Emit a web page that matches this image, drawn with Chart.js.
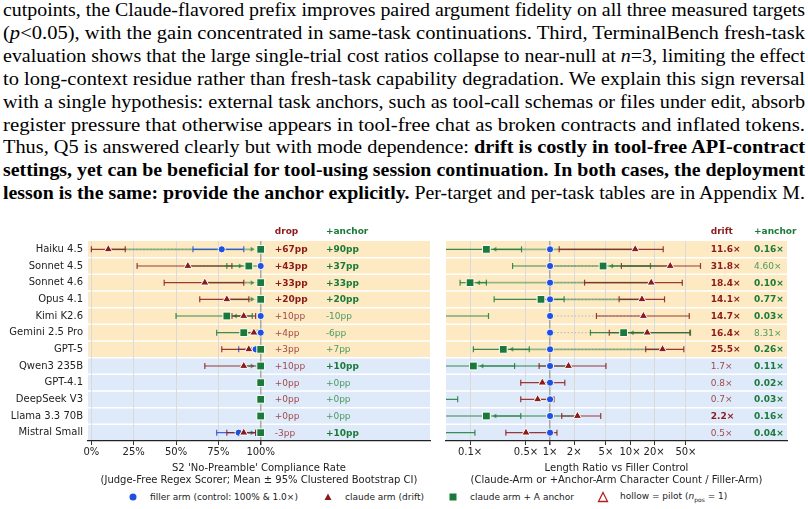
<!DOCTYPE html>
<html lang="en">
<head>
<meta charset="UTF-8">
<title>Drift vs anchor</title>
<script src="https://cdn.jsdelivr.net/npm/chart.js"></script>
<style>
    body {
        margin: 0;
        width: 808px;
        height: 509px;
        overflow: hidden;
        background: #fff;
        position: relative;
        font-family: 'DejaVu Sans', sans-serif;
    }
    #para {
        position: absolute;
        left: 3px;
        top: -1px;
        width: 802px;
        font-family: 'Liberation Serif', 'Times New Roman', serif;
        font-size: 19px;
        line-height: 22.9px;
        color: #000;
    }
    .ln { white-space: nowrap; transform-origin: 0 0; }
    .ln span { display: inline-block; }
    #leftChart { position: absolute; left: 0; top: 222px; }
    #rightChart { position: absolute; left: 438px; top: 222px; }
    #legend { position: absolute; left: 0; top: 490px; width: 808px; height: 14px; font-size: 9px; color: #222; }
    .item { position: absolute; top: 0; height: 14px; display: flex; align-items: center; white-space: nowrap; }
    .item span { margin-left: 12px; }
</style>
</head>
<body>
<div id="para">
    <div class="ln"><span>cutpoints, the Claude-flavored prefix improves paired argument fidelity on all three measured targets</span></div>
    <div class="ln"><span>(<i>p</i>&lt;0.05), with the gain concentrated in same-task continuations. Third, TerminalBench fresh-task</span></div>
    <div class="ln"><span>evaluation shows that the large single-trial cost ratios collapse to near-null at <i>n</i>=3, limiting the effect</span></div>
    <div class="ln"><span>to long-context residue rather than fresh-task capability degradation. We explain this sign reversal</span></div>
    <div class="ln"><span>with a single hypothesis: external task anchors, such as tool-call schemas or files under edit, absorb</span></div>
    <div class="ln"><span>register pressure that otherwise appears in tool-free chat as broken contracts and inflated tokens.</span></div>
    <div class="ln"><span>Thus, Q5 is answered clearly but with mode dependence: <b>drift is costly in tool-free API-contract</b></span></div>
    <div class="ln"><span><b>settings, yet can be beneficial for tool-using session continuation. In both cases, the deployment</b></span></div>
    <div class="ln"><span><b>lesson is the same: provide the anchor explicitly.</b> Per-target and per-task tables are in Appendix M.</span></div>
</div>

<canvas id="leftChart" width="438" height="268"></canvas>
<canvas id="rightChart" width="370" height="268"></canvas>

<div id="legend">
    <div class="item" style="left:128px"><svg width="10" height="10"><circle cx="5" cy="5" r="3.5" fill="#1f50e0"/></svg><span>filler arm (control: 100% &amp; 1.0×)</span></div>
    <div class="item" style="left:323px"><svg width="10" height="10"><polygon points="5,1.5 8.5,8 1.5,8" fill="#8b1a1a"/></svg><span>claude arm (drift)</span></div>
    <div class="item" style="left:448px"><svg width="10" height="10"><rect x="1.5" y="1.5" width="7" height="7" fill="#1b7a3a"/></svg><span>claude arm + A anchor</span></div>
    <div class="item" style="left:597px"><svg width="12" height="12"><polygon points="6,1.5 10.5,10.5 1.5,10.5" fill="none" stroke="#b22222" stroke-width="1.3"/></svg><span style="margin-left:11px">hollow = pilot (<i>n</i><sub style="font-size:6px">pos</sub> = 1)</span></div>
</div>

<script>
    // rows, top to bottom
    const models = ['Haiku 4.5', 'Sonnet 4.5', 'Sonnet 4.6', 'Opus 4.1', 'Kimi K2.6', 'Gemini 2.5 Pro', 'GPT-5',
                    'Qwen3 235B', 'GPT-4.1', 'DeepSeek V3', 'Llama 3.3 70B', 'Mistral Small'];
    const rowGroup = ['warm', 'warm', 'warm', 'warm', 'warm', 'warm', 'warm', 'cool', 'cool', 'cool', 'cool', 'cool'];

    // left panel: compliance rate (%)
    const fillerRate = [77, 100, 100, 100, 100, 100, 97, 100, 100, 100, 100, 87];
    const fillerLo   = [60, 100, 100, 100, 100, 100, 87, 100, 100, 100, 100, 74];
    const fillerHi   = [90, 100, 100, 100, 100, 100, 100, 100, 100, 100, 100, 97];
    const claudeRate = [10, 57, 67, 80, 90, 96, 93, 90, 100, 100, 100, 90];
    const claudeLo   = [0, 27, 43, 64, 83, 92, 77, 67, 100, 100, 100, 80];
    const claudeHi   = [20, 83, 90, 93, 97, 100, 99, 98, 100, 100, 100, 97];
    const anchorRate = [100, 93, 100, 100, 80, 90, 100, 100, 100, 100, 100, 100];
    const anchorLo   = [100, 80, 100, 100, 50, 74, 100, 100, 100, 100, 100, 100];
    const anchorHi   = [100, 100, 100, 100, 95, 98, 100, 100, 100, 100, 100, 100];
    const dropText   = ['+67pp', '+43pp', '+33pp', '+20pp', '+10pp', '+4pp', '+3pp', '+10pp', '+0pp', '+0pp', '+0pp', '-3pp'];
    const dropBold   = [1, 1, 1, 1, 0, 0, 0, 0, 0, 0, 0, 0];
    const plusText   = ['+90pp', '+37pp', '+33pp', '+20pp', '-10pp', '-6pp', '+7pp', '+10pp', '+0pp', '+0pp', '+0pp', '+10pp'];
    const plusBold   = [1, 1, 1, 1, 0, 0, 0, 1, 0, 0, 0, 1];
    const pctTicks   = [0, 25, 50, 75, 100];

    // right panel: length ratio vs filler
    const fillerRatio   = [1, 1, 1, 1, 1, 1, 1, 1, 1, 1, 1, 1];
    const claudeRatio   = [11.6, 31.8, 18.4, 14.1, 14.7, 16.4, 25.5, 1.7, 0.8, 0.7, 2.2, 0.5];
    const claudeRatioLo = [1.3, 7.8, 2.7, 7.3, 3.8, 5.5, 15.7, 0.73, 0.43, 0.43, 1.4, 0.28];
    const claudeRatioHi = [26, 76, 45, 27, 55, 56, 47, 5.0, 1.53, 1.12, 4.3, 1.22];
    const anchorRatio   = [0.16, 4.60, 0.10, 0.77, 0.03, 8.31, 0.26, 0.11, 0.02, 0.03, 0.16, 0.04];
    const anchorRatioLo = [0.03, 0.34, 0.075, 0.20, 0.01, 3.2, 0.11, 0.03, 0.01, 0.01, 0.03, 0.01];
    const anchorRatioHi = [0.44, 18, 0.16, 1.5, 0.17, 57, 0.55, 0.36, 0.04, 0.07, 0.43, 0.115];
    const driftText     = ['11.6×', '31.8×', '18.4×', '14.1×', '14.7×', '16.4×', '25.5×', '1.7×', '0.8×', '0.7×', '2.2×', '0.5×'];
    const driftBold     = [1, 1, 1, 1, 1, 1, 1, 0, 0, 0, 1, 0];
    const ratioText     = ['0.16×', '4.60×', '0.10×', '0.77×', '0.03×', '8.31×', '0.26×', '0.11×', '0.02×', '0.03×', '0.16×', '0.04×'];
    const ratioBold     = [1, 0, 1, 1, 1, 0, 1, 1, 1, 1, 1, 1];
    const ratioTicks    = [0.1, 0.5, 1, 2, 5, 10, 20, 50];

    const RED = '#8b1a1a', RED_SOFT = '#a04a4a';
    const GREEN = '#1b7a3a', GREEN_SOFT = '#4b9a62';
    const BLUE = '#1f50e0';
    const BAND_WARM = '#fdeac2', BAND_COOL = '#deeaf9';

    // each paragraph line is fitted to the 802px column on its own
    document.querySelectorAll('#para .ln').forEach(l => {
        const w = l.firstElementChild.getBoundingClientRect().width;
        l.style.transform = 'scaleX(' + (802 / w) + ')';
    });

    Chart.defaults.font.family = "'DejaVu Sans', sans-serif";
    Chart.defaults.color = '#222';

    function forestPlugin(p) {
        return {
            id: 'forest',
            beforeDraw(chart) {
                const { ctx, chartArea: a } = chart;
                const h = (a.bottom - a.top) / models.length;
                ctx.save();
                rowGroup.forEach((g, i) => {
                    ctx.fillStyle = g === 'warm' ? BAND_WARM : BAND_COOL;
                    ctx.fillRect(a.left, a.top + i * h, a.right - a.left, h);
                });
                ctx.strokeStyle = '#fff';
                ctx.lineWidth = 1.5;
                for (let i = 1; i < models.length; i++) {
                    ctx.beginPath();
                    ctx.moveTo(a.left, a.top + i * h);
                    ctx.lineTo(a.right, a.top + i * h);
                    ctx.stroke();
                }
                ctx.restore();
            },
            beforeDatasetsDraw(chart) {
                const { ctx, chartArea: a, scales: { x, y } } = chart;
                ctx.save();
                ctx.beginPath();
                ctx.rect(a.left, a.top, a.right - a.left, a.bottom - a.top);
                ctx.clip();
                const hline = (x0, x1, yy) => { ctx.beginPath(); ctx.moveTo(x0, yy); ctx.lineTo(x1, yy); ctx.stroke(); };
                const ci = (lo, hi, yy, color) => {
                    if (hi <= lo) return;
                    const x0 = x.getPixelForValue(lo), x1 = x.getPixelForValue(hi);
                    ctx.strokeStyle = color;
                    ctx.lineWidth = 1.2;
                    hline(x0, x1, yy);
                    [x0, x1].forEach(xx => { ctx.beginPath(); ctx.moveTo(xx, yy - 3); ctx.lineTo(xx, yy + 3); ctx.stroke(); });
                };
                models.forEach((m, i) => {
                    const yy = y.getPixelForValue(i);
                    const xf = x.getPixelForValue(p.filler[i]);
                    const xc = x.getPixelForValue(p.claude[i]);
                    const xa = x.getPixelForValue(p.anchor[i]);
                    // faint link filler -> claude
                    if (Math.abs(xc - xf) > 4) {
                        ctx.setLineDash([1.5, 2]);
                        ctx.strokeStyle = 'rgba(160,160,160,0.7)';
                        ctx.lineWidth = 1;
                        hline(xf, xc, yy);
                        ctx.setLineDash([]);
                    }
                    // arrow claude -> anchor (only when anchor is on the axis)
                    if (p.anchor[i] >= x.min && p.anchor[i] <= x.max && Math.abs(xa - xc) > 10) {
                        const dir = Math.sign(xa - xc);
                        const tip = xa - dir * 6;
                        ctx.strokeStyle = 'rgba(27,122,58,0.45)';
                        ctx.lineWidth = 1.8;
                        hline(xc, tip - dir * 3, yy);
                        ctx.fillStyle = 'rgba(27,122,58,0.7)';
                        ctx.beginPath();
                        ctx.moveTo(tip, yy);
                        ctx.lineTo(tip - dir * 4, yy - 2.5);
                        ctx.lineTo(tip - dir * 4, yy + 2.5);
                        ctx.closePath();
                        ctx.fill();
                    }
                    ci(p.fillerLo[i], p.fillerHi[i], yy, 'rgba(31,80,224,0.85)');
                    ci(p.claudeLo[i], p.claudeHi[i], yy, 'rgba(139,26,26,0.85)');
                    ci(p.anchorLo[i], p.anchorHi[i], yy, 'rgba(27,122,58,0.85)');
                });
                ctx.restore();
            },
            afterDraw(chart) {
                const { ctx, chartArea: a, scales: { x, y } } = chart;
                ctx.save();
                ctx.textAlign = 'left';
                ctx.textBaseline = 'middle';
                p.cols.forEach(c => {
                    const xx = x.getPixelForValue(c.at);
                    ctx.font = "bold 9px 'DejaVu Sans'";
                    ctx.fillStyle = c.color;
                    ctx.fillText(c.header, xx, a.top - 9);
                    c.texts.forEach((t, i) => {
                        ctx.font = (c.bold[i] ? 'bold ' : '') + "9px 'DejaVu Sans'";
                        ctx.fillStyle = c.bold[i] ? c.color : c.soft;
                        ctx.fillText(t, xx, y.getPixelForValue(i) + 0.5);
                    });
                });
                ctx.restore();
            }
        };
    }

    function makeChart(id, p) {
        const pts = arr => models.map((m, i) => ({ x: arr[i], y: m }));
        return new Chart(document.getElementById(id), {
            type: 'scatter',
            data: {
                datasets: [
                    { label: 'claude arm + A anchor', data: pts(p.anchor), pointStyle: 'rect', pointRadius: 5.5,
                      backgroundColor: GREEN, borderColor: '#fff', borderWidth: 1, order: 1 },
                    { label: 'claude arm (drift)', data: pts(p.claude), pointStyle: 'triangle', pointRadius: 4.8,
                      backgroundColor: RED, borderColor: '#fff', borderWidth: 1, order: 2 },
                    { label: 'filler arm', data: pts(p.filler), pointStyle: 'circle', pointRadius: 3.6,
                      backgroundColor: BLUE, borderColor: '#fff', borderWidth: 1, order: 3 }
                ]
            },
            options: {
                responsive: false,
                devicePixelRatio: 1,
                animation: false,
                layout: { padding: { top: 19, right: p.padRight, left: 0, bottom: 0 } },
                plugins: { legend: { display: false }, tooltip: { enabled: false } },
                scales: {
                    x: {
                        type: p.xType,
                        min: p.min,
                        max: p.max,
                        afterBuildTicks: s => { s.ticks = p.ticks.map(v => ({ value: v })); },
                        afterFit: s => { s.height = 49; },
                        ticks: { callback: p.fmt, font: { size: 10 }, color: '#222', padding: 1, maxRotation: 0, autoSkip: false },
                        grid: {
                            color: c => (c.tick && c.tick.value === p.ref) ? '#a9a9a9' : '#dadada',
                            lineWidth: c => (c.tick && c.tick.value === p.ref) ? 1.5 : 1,
                            tickColor: '#333',
                            tickLength: 4
                        },
                        border: { display: true, color: '#222', width: 1.2 },
                        title: { display: true, text: p.title, font: { size: 10 }, color: '#222', padding: { top: 2, bottom: 4 } }
                    },
                    y: {
                        type: 'category',
                        labels: models,
                        offset: true,
                        afterFit: s => { s.width = p.yWidth; },
                        ticks: { display: p.showLabels, font: { size: 10 }, color: '#222', padding: 5 },
                        grid: { display: false, drawTicks: false },
                        border: { display: false }
                    }
                }
            },
            plugins: [forestPlugin(p)]
        });
    }

    makeChart('leftChart', {
        xType: 'linear', min: -2, max: 200, ticks: pctTicks, ref: 100, fmt: v => v + '%',
        padRight: 8, yWidth: 88, showLabels: true,
        title: ["S2 'No-Preamble' Compliance Rate", '(Judge-Free Regex Scorer; Mean ± 95% Clustered Bootstrap CI)'],
        filler: fillerRate, fillerLo: fillerLo, fillerHi: fillerHi,
        claude: claudeRate, claudeLo: claudeLo, claudeHi: claudeHi,
        anchor: anchorRate, anchorLo: anchorLo, anchorHi: anchorHi,
        cols: [
            { header: 'drop', at: 108.3, texts: dropText, bold: dropBold, color: RED, soft: RED_SOFT },
            { header: '+anchor', at: 138.5, texts: plusText, bold: plusBold, color: GREEN, soft: GREEN_SOFT }
        ]
    });

    makeChart('rightChart', {
        xType: 'logarithmic', min: 0.05, max: 917, ticks: ratioTicks, ref: 1, fmt: v => v + '×',
        padRight: 21, yWidth: 8, showLabels: false,
        title: ['Length Ratio vs Filler Control', '(Claude-Arm or +Anchor-Arm Character Count / Filler-Arm)'],
        filler: fillerRatio, fillerLo: fillerRatio, fillerHi: fillerRatio,
        claude: claudeRatio, claudeLo: claudeRatioLo, claudeHi: claudeRatioHi,
        anchor: anchorRatio, anchorLo: anchorRatioLo, anchorHi: anchorRatioHi,
        cols: [
            { header: 'drift', at: 102, texts: driftText, bold: driftBold, color: RED, soft: RED_SOFT },
            { header: '+anchor', at: 355, texts: ratioText, bold: ratioBold, color: GREEN, soft: GREEN_SOFT }
        ]
    });
</script>
</body>
</html>
